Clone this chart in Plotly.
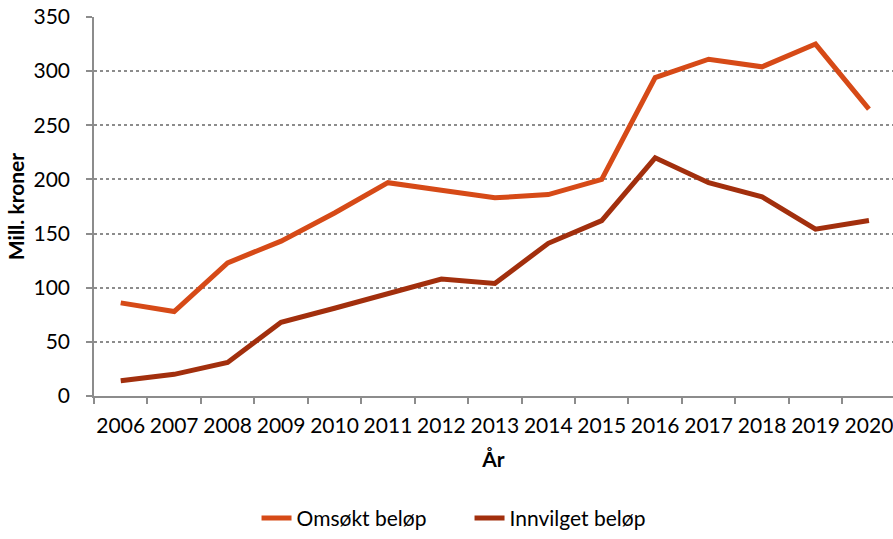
import plotly.graph_objects as go

years = [str(y) for y in range(2006, 2021)]
omsokt = [86, 78, 123, 143, 169, 197, 190, 183, 186, 200, 294, 311, 304, 325, 265]
innvilget = [14, 20, 31, 68, 81, 94, 108, 104, 141, 162, 220, 197, 184, 154, 162]

FONT = "Lato, Calibri, 'Open Sans', sans-serif"
ORANGE = "#D64A17"
DARK = "#A22F0D"
GRID = "#8C8C8C"

fig = go.Figure()
fig.add_trace(go.Scatter(x=years, y=omsokt, name="Omsøkt beløp", mode="lines",
                         line={"color": ORANGE, "width": 5}))
fig.add_trace(go.Scatter(x=years, y=innvilget, name="Innvilget beløp", mode="lines",
                         line={"color": DARK, "width": 5}))

fig.update_layout(
    width=893, height=539,
    margin={"l": 94, "r": 0, "t": 17, "b": 143},
    paper_bgcolor="white", plot_bgcolor="white",
    font={"family": FONT, "size": 21, "color": "#000000"},
    showlegend=True,
    legend={"orientation": "h", "x": 0.47, "xanchor": "center", "y": -0.377,
            "yanchor": "bottom", "font": {"size": 21}, "entrywidth": 168,
            "entrywidthmode": "pixels"},
    xaxis={
        "type": "category", "range": [-0.5, 14.45], "automargin": False,
        "tickangle": 0,
        "showgrid": False, "showline": True, "linecolor": GRID, "linewidth": 1.5,
        "ticks": "outside", "tickson": "boundaries", "ticklen": 6,
        "tickcolor": GRID, "tickwidth": 1.5, "ticklabelstandoff": 10,
        "title": {"text": "<b>År</b>", "font": {"size": 21}, "standoff": 16},
    },
    yaxis={
        "range": [0, 350], "dtick": 50, "automargin": False,
        "showgrid": True, "gridcolor": GRID, "griddash": "dot", "gridwidth": 1.5,
        "zeroline": False, "showline": True, "linecolor": GRID, "linewidth": 1.5,
        "ticks": "outside", "ticklen": 6, "tickcolor": GRID, "tickwidth": 1.5,
        "ticklabelstandoff": 12,
        "title": {"text": "<b>Mill. kroner</b>", "font": {"size": 21}, "standoff": 3},
    },
)

fig.write_html("out.html", config={"displayModeBar": False},
               post_script="document.body.style.margin='0';")
